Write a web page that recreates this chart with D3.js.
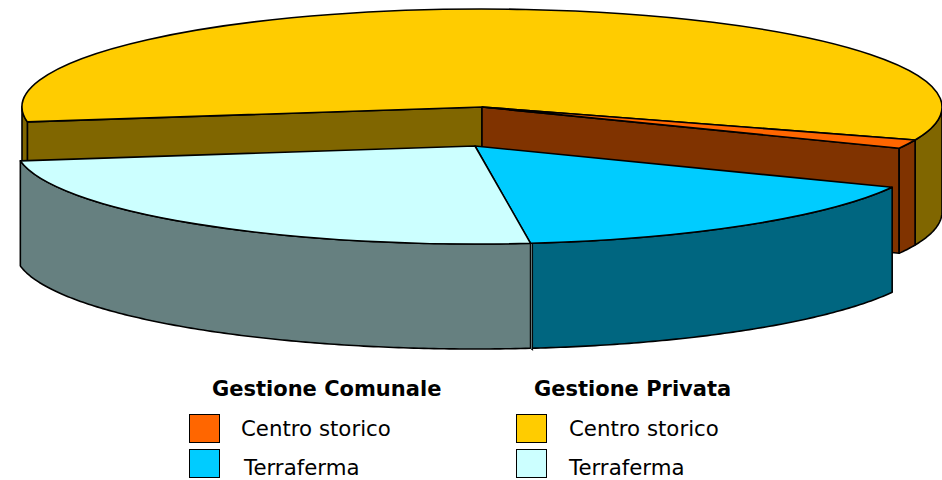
<!DOCTYPE html>
<html>
<head>
<meta charset="utf-8">
<script src="https://cdnjs.cloudflare.com/ajax/libs/d3/7.8.5/d3.min.js"></script>
<style>
html,body{margin:0;padding:0;background:#fff;overflow:hidden}
svg{display:block}
text{font-family:"DejaVu Sans",sans-serif;fill:#000}
</style>
</head>
<body>
<svg id="c" width="942" height="480"></svg>
<script>
const categories = ["Gestione Comunale – Centro storico","Gestione Comunale – Terraferma","Gestione Privata – Terraferma","Gestione Privata – Centro storico"];
const values = [1.45, 16.15, 24.5, 57.9];
const topColors = ["#FF6600","#00CCFF","#CCFFFF","#FFCC00"];
const sideColors = ["#803300","#006680","#668080","#806600"];
const legendHeads = ["Gestione Comunale","Gestione Privata"];
const legendLabels = [["Centro storico","Terraferma"],["Centro storico","Terraferma"]];
const legendColors = [["#FF6600","#00CCFF"],["#FFCC00","#CCFFFF"]];

const rx = 460, ry = 98, depth = 105;
const centers = [[482,107],[475,146],[475,146],[482,107]];
const startDeg = 109.7;

const svg = d3.select("#c");
const pie = d3.pie().sort(null).value(d=>d).startAngle(startDeg*Math.PI/180).endAngle((startDeg+360)*Math.PI/180);
const slices = pie(values).map((s,i)=>({...s,i,c:centers[i]}));
const arcGen = d3.arc().innerRadius(0).outerRadius(rx);
const px = (d,a)=>d.c[0]+rx*Math.sin(a);
const py = (d,a)=>d.c[1]-ry*Math.cos(a);
const lineGen = d3.line();

function paint(sel,fill){
  return sel.attr("fill",fill).attr("stroke","#000").attr("stroke-width",1.6).attr("stroke-linejoin","round");
}
function outerWall(g,d,a0,a1){
  if(a1<=a0) return;
  const n = Math.max(2,Math.ceil((a1-a0)*90));
  const t = d3.range(n+1).map(k=>a0+(a1-a0)*k/n);
  const upper = t.map(a=>[px(d,a),py(d,a)]);
  const lower = t.slice().reverse().map(a=>[px(d,a),py(d,a)+depth]);
  paint(g.append("path").attr("d",lineGen(upper.concat(lower))+"Z"),sideColors[d.i]);
}
function cutFace(g,d,a){
  const p = [[d.c[0],d.c[1]],[px(d,a),py(d,a)],[px(d,a),py(d,a)+depth],[d.c[0],d.c[1]+depth]];
  paint(g.append("path").attr("d",lineGen(p)+"Z"),sideColors[d.i]);
}
function topFace(g,d){
  paint(g.append("path")
    .attr("d",arcGen(d))
    .attr("vector-effect","non-scaling-stroke")
    .attr("transform",`translate(${d.c[0]},${d.c[1]}) scale(1,${ry/rx})`),topColors[d.i]);
}
const TAU = 2*Math.PI;
const rear = svg.append("g"), front = svg.append("g");
const yellow = slices[3], orange = slices[0], cyan = slices[1], pale = slices[2];

cutFace(rear,yellow,yellow.startAngle);
cutFace(rear,orange,orange.endAngle);
outerWall(rear,yellow,TAU+Math.PI/2,yellow.endAngle);
outerWall(rear,yellow,yellow.startAngle,3*Math.PI/2);
outerWall(rear,orange,orange.startAngle,orange.endAngle);
topFace(rear,yellow);
topFace(rear,orange);

outerWall(front,cyan,cyan.startAngle,cyan.endAngle);
outerWall(front,pale,pale.startAngle,pale.endAngle);
// narrow seam between the two front walls
const sx = px(pale,pale.startAngle), sy = py(pale,pale.startAngle);
front.append("path")
  .attr("d",lineGen([[sx,sy],[sx+2,sy],[sx+2,sy+depth+2],[sx,sy+depth]])+"Z")
  .attr("fill",sideColors[2]).attr("stroke","#000").attr("stroke-width",1);
topFace(front,cyan);
topFace(front,pale);

// legend
const cols = [{sw:189,txt:[241,244],head:212},{sw:516,txt:[569,569],head:534}];
const rowsY = [414,449], baseY=[436,475];
cols.forEach((c,k)=>{
  svg.append("text").attr("x",c.head).attr("y",396).attr("font-size",21).attr("font-weight","bold").text(legendHeads[k]);
  legendLabels[k].forEach((t,r)=>{
    svg.append("rect").attr("x",c.sw+.5).attr("y",rowsY[r]+.5).attr("width",30).attr("height",28)
      .attr("fill",legendColors[k][r]).attr("stroke","#000").attr("stroke-width",1);
    svg.append("text").attr("x",c.txt[r]).attr("y",baseY[r]).attr("font-size",21.3).text(t);
  });
});
</script>
</body>
</html>
